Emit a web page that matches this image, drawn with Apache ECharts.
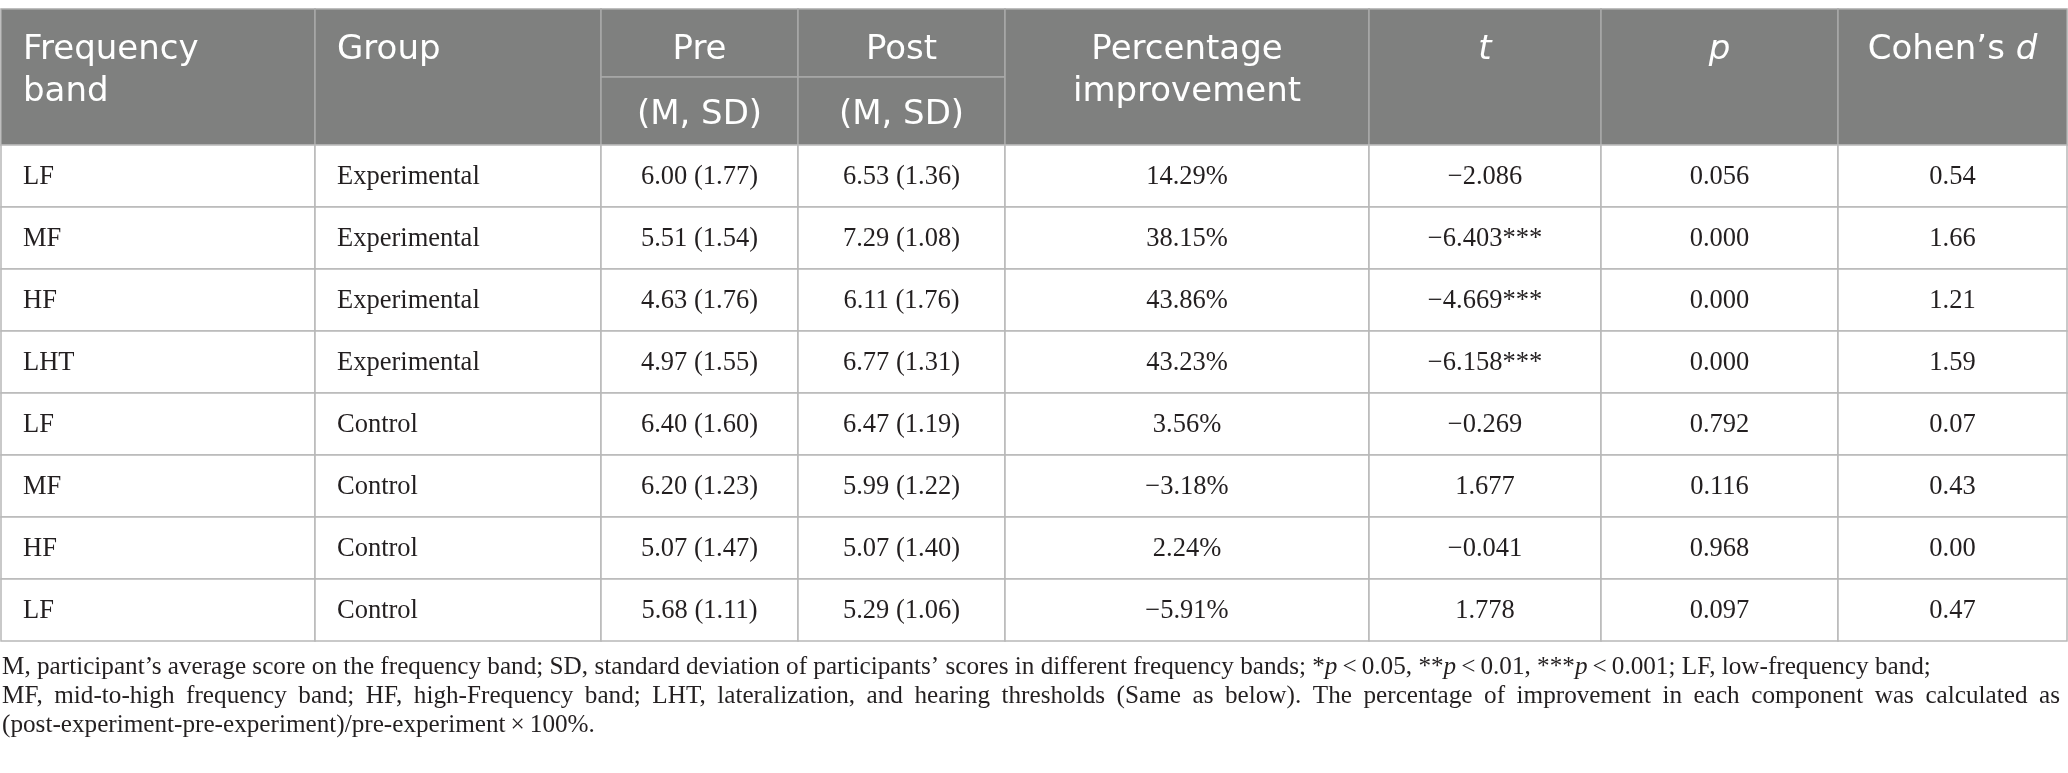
<!DOCTYPE html>
<html lang="en">
<head>
    <meta charset="UTF-8">
    <title>Frequency band table</title>
    <script src="https://cdn.jsdelivr.net/npm/echarts@6/dist/echarts.min.js"></script>
    <style>
        html, body { margin: 0; padding: 0; background: #fff; }
        #main { width: 2068px; height: 773px; }
    </style>
</head>
<body>
    <div id="main"></div>
    <script>
        // table values
        var headerLabels = ['Frequency\nband', 'Group', 'Pre', 'Post', 'Percentage\nimprovement', 't', 'p', 'Cohen\u2019s d'];
        var subLabels = ['(M, SD)', '(M, SD)'];
        var bands = ['LF', 'MF', 'HF', 'LHT', 'LF', 'MF', 'HF', 'LF'];
        var groups = ['Experimental', 'Experimental', 'Experimental', 'Experimental', 'Control', 'Control', 'Control', 'Control'];
        var preMean = [6.00, 5.51, 4.63, 4.97, 6.40, 6.20, 5.07, 5.68];
        var preSD = [1.77, 1.54, 1.76, 1.55, 1.60, 1.23, 1.47, 1.11];
        var postMean = [6.53, 7.29, 6.11, 6.77, 6.47, 5.99, 5.07, 5.29];
        var postSD = [1.36, 1.08, 1.76, 1.31, 1.19, 1.22, 1.40, 1.06];
        var improvement = [14.29, 38.15, 43.86, 43.23, 3.56, -3.18, 2.24, -5.91];
        var tValue = [-2.086, -6.403, -4.669, -6.158, -0.269, 1.677, -0.041, 1.778];
        var tStars = ['', '***', '***', '***', '', '', '', ''];
        var pValue = [0.056, 0.000, 0.000, 0.000, 0.792, 0.116, 0.968, 0.097];
        var cohensD = [0.54, 1.66, 1.21, 1.59, 0.07, 0.43, 0.00, 0.47];
        var notes = [
            'M, participant\u2019s average score on the frequency band; SD, standard deviation of participants\u2019 scores in different frequency bands; *{i|p}\u2009<\u20090.05, **{i|p}\u2009<\u20090.01, ***{i|p}\u2009<\u20090.001; LF, low-frequency band;',
            'MF, mid-to-high frequency band; HF, high-Frequency band; LHT, lateralization, and hearing thresholds (Same as below). The percentage of improvement in each component was calculated as',
            '(post-experiment-pre-experiment)/pre-experiment\u2009\u00d7\u2009100%.'
        ];

        // layout (column edges in x-axis units, header in row units)
        var colEdges = [0, 314, 600, 797, 1004, 1368, 1600, 1837, 2066];
        var headHalf = 1.097;
        var serif = '"Liberation Serif", "DejaVu Serif", serif';
        var sans = '"DejaVu Sans", "Open Sans", sans-serif';
        var headSize = 34, bodySize = 26.5;

        // 注释字号: first note line should end at about x=1931
        var measureCtx = document.createElement('canvas').getContext('2d');
        measureCtx.font = '100px ' + serif;
        var line1Plain = notes[0].replace(/\{i\|p\}/g, 'p');
        var noteSize = Math.round(100 * 1929 / measureCtx.measureText(line1Plain).width * 10) / 10;
        measureCtx.font = noteSize + 'px ' + serif;

        function minus(s) {
            return s.replace('-', '\u2212');
        }

        var cells = [], cellInfo = [];
        function addCell(c, r0, r1, text, opt) {
            cells.push([colEdges[c], colEdges[c + 1], r0, r1]);
            opt.text = text;
            cellInfo.push(opt);
        }

        //表头
        for (var c = 0; c < headerLabels.length; c++) {
            if (c == 2 || c == 3) {
                addCell(c, -2 * headHalf, -headHalf, headerLabels[c], { head: true, align: 'center' });
                addCell(c, -headHalf, 0, subLabels[c - 2], { head: true, sub: true, align: 'center' });
            } else {
                addCell(c, -2 * headHalf, 0, headerLabels[c], {
                    head: true,
                    align: c < 2 ? 'left' : 'center',
                    pad: 22,
                    italic: c == 5 || c == 6,
                    lines: headerLabels[c].split('\n').length
                });
            }
        }

        //数据行
        for (var i = 0; i < bands.length; i++) {
            var row = [
                bands[i],
                groups[i],
                preMean[i].toFixed(2) + ' (' + preSD[i].toFixed(2) + ')',
                postMean[i].toFixed(2) + ' (' + postSD[i].toFixed(2) + ')',
                minus(improvement[i].toFixed(2)) + '%',
                minus(tValue[i].toFixed(3)) + tStars[i],
                pValue[i].toFixed(3),
                cohensD[i].toFixed(2)
            ];
            for (var c = 0; c < row.length; c++) {
                addCell(c, i, i + 1, row[c], { align: c < 2 ? 'left' : 'center', pad: 22 });
            }
        }

        function renderCell(params, api) {
            var info = cellInfo[params.dataIndex];
            var a = api.coord([api.value(0), api.value(2)]);
            var b = api.coord([api.value(1), api.value(3)]);
            var x = a[0], y = a[1], w = b[0] - a[0], h = b[1] - a[1];
            var tx = info.align == 'left' ? x + info.pad : x + w / 2;
            var ty;
            if (!info.head) ty = y + h / 2 + 1;
            else if (info.sub) ty = y + h / 2 + 4.5;
            else ty = y + 41.5 + ((info.lines || 1) - 1) * 21;

            var text = info.text, rich = {};
            if (text.indexOf('Cohen') == 0) {
                text = '{r|Cohen\u2019s }{i|d}';
                rich = {
                    r: { fontFamily: sans, fontSize: headSize, fill: '#fff', fontStyle: 'normal' },
                    i: { fontFamily: sans, fontSize: headSize, fill: '#fff', fontStyle: 'italic' }
                };
            }
            return {
                type: 'group',
                children: [{
                    type: 'rect',
                    shape: { x: x, y: y, width: w, height: h },
                    style: {
                        fill: info.head ? '#7f807f' : '#fff',
                        stroke: info.head ? '#a9a9a9' : '#b8b8b8',
                        lineWidth: 1.5
                    }
                }, {
                    type: 'text',
                    style: {
                        text: text,
                        rich: rich,
                        x: tx,
                        y: ty,
                        align: info.align,
                        verticalAlign: 'middle',
                        fontFamily: info.head ? sans : serif,
                        fontSize: info.head ? headSize : bodySize,
                        fontStyle: info.italic ? 'italic' : 'normal',
                        lineHeight: 42,
                        fill: info.head ? '#fff' : '#231f20'
                    }
                }]
            };
        }

        // 注释文字, the second line is justified to the table width
        var noteMid = [667, 696, 725];
        var noteText = [];
        function noteElem(str, x, y) {
            return {
                type: 'text',
                x: x,
                y: y,
                silent: true,
                style: {
                    text: str,
                    fontFamily: serif,
                    fontSize: noteSize,
                    fill: '#231f20',
                    verticalAlign: 'middle',
                    rich: {
                        i: { fontFamily: serif, fontSize: noteSize, fontStyle: 'italic', fill: '#231f20' }
                    }
                }
            };
        }
        for (var n = 0; n < notes.length; n++) {
            if (n == 1) {
                var words = notes[n].split(' ');
                var total = 0;
                for (var k = 0; k < words.length; k++) total += measureCtx.measureText(words[k]).width;
                var gap = Math.max((2058 - total) / (words.length - 1), measureCtx.measureText(' ').width);
                var wx = 2;
                for (var k = 0; k < words.length; k++) {
                    noteText.push(noteElem(words[k], wx, noteMid[n]));
                    wx += measureCtx.measureText(words[k]).width + gap;
                }
            } else {
                noteText.push(noteElem(notes[n], 2, noteMid[n]));
            }
        }

        var myChart = echarts.init(document.getElementById('main'));
        option = {
            animation: false,
            grid: {
                left: 1,
                top: 9,
                width: 2066,
                height: 632
            },
            xAxis: {
                type: 'value',
                min: 0,
                max: colEdges[colEdges.length - 1],
                show: false
            },
            yAxis: {
                type: 'value',
                min: -2 * headHalf,
                max: bands.length,
                inverse: true,
                show: false
            },
            graphic: noteText,
            series: [{
                type: 'custom',
                renderItem: renderCell,
                data: cells,
                clip: false
            }]
        };
        myChart.setOption(option);
    </script>
</body>
</html>
